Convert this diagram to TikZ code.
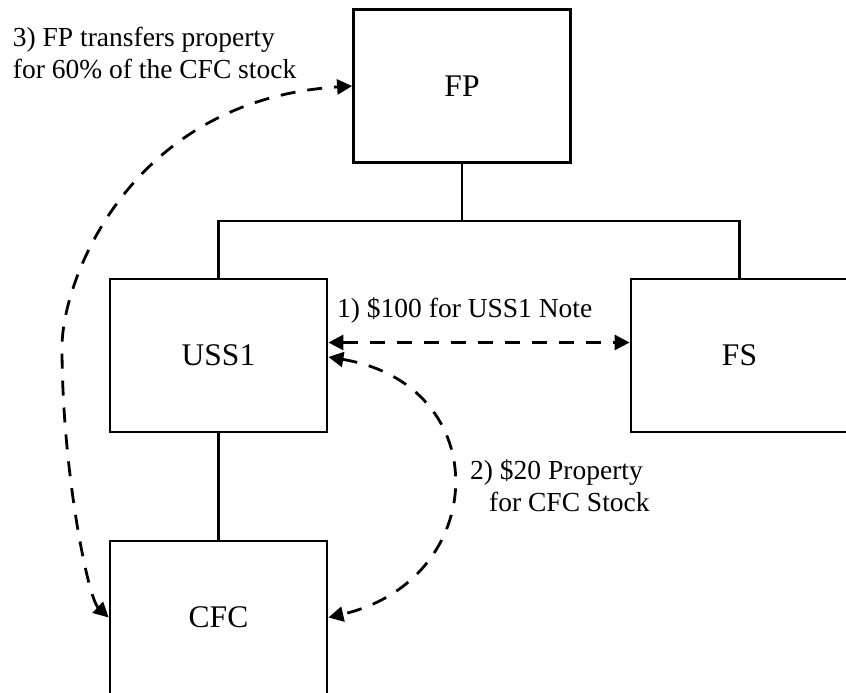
\documentclass[tikz,border=0pt]{standalone}
\usepackage{fontspec}
\setmainfont{Liberation Serif}
\usetikzlibrary{arrows.meta}
\begin{document}
\begin{tikzpicture}[x=1pt,y=-1pt,
  ent/.style={draw, line width=2.8pt, minimum width=217pt, minimum height=153pt,
    inner sep=0pt, font=\fontsize{31.5}{36}\selectfont},
  tree/.style={line width=2.8pt},
  flow/.style={line width=2.8pt, dash pattern=on 15pt off 12pt,
    arrows={Triangle[length=15pt,width=15pt]-Triangle[length=15pt,width=15pt]}},
  lbl/.style={inner sep=0pt, anchor=base west, font=\fontsize{27.5}{31}\selectfont}]
\useasboundingbox (0,0) rectangle (846,693);
\clip (0,0) rectangle (846,693);
\node[ent] (fp) at (462,86) {FP};
\node[ent] (uss1) at (218.5,355.5) {USS1};
\node[ent] (fs) at (739.5,355.5) {FS};
\node[ent] (cfc) at (218.5,617.5) {CFC};
\coordinate (bus) at (462,221);
\draw[tree] (fp.south) -- (bus) -| (uss1.north);
\draw[tree] (bus) -| (fs.north);
\draw[tree] (uss1.south) -- (cfc.north);
\draw[flow] ([yshift=13pt]uss1.east) -- ([yshift=13pt]fs.west);
\draw[flow] ([yshift=-1.5pt]uss1.east) .. controls (497,385) and (490,580) .. (cfc.east);
\draw[flow] (cfc.west) .. controls (88,598) and (62,470) .. (62,347)
  .. controls (62,280) and (130,100) .. (fp.west);
\node[lbl] (l1) at (337,317) {1) \$100 for USS1 Note};
\node[lbl] (l2a) at (470,479) {2) \$20 Property};
\node[lbl] (l2b) at (489,511) {for CFC Stock};
\node[lbl] (l3a) at (12.7,47) {3) FP transfers property};
\node[lbl] (l3b) at (12.7,78) {for 60\% of the CFC stock};
\end{tikzpicture}
\end{document}
